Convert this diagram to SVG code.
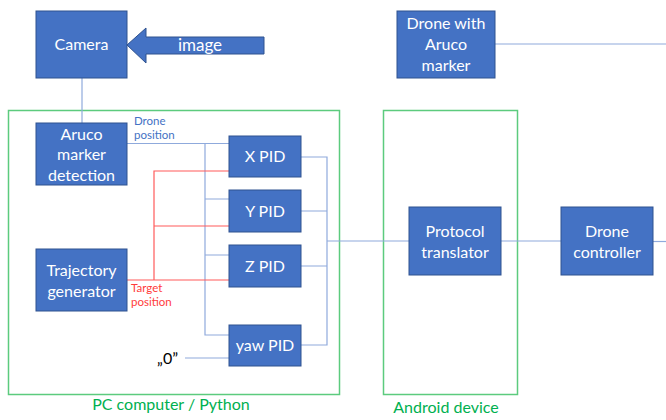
<svg xmlns="http://www.w3.org/2000/svg" width="666" height="420" viewBox="0 0 666 420">
  <style>
    .box { fill: #4472C4; stroke: #2F528F; stroke-width: 1; }
    .lbl { fill: #ffffff; font-family: Lato, "Open Sans", sans-serif; font-size: 16px; text-anchor: middle; }
    .frame { fill: none; stroke: #5CCB7E; stroke-width: 1.5; }
    .ftxt { fill: #00B050; font-family: Lato, "Open Sans", sans-serif; font-size: 16px; text-anchor: middle; }
    .blue { fill: none; stroke: #8FAADC; stroke-width: 1.2; }
    .red { fill: none; stroke: #FF5B5B; stroke-width: 1.2; }
    .small { font-family: Lato, "Open Sans", sans-serif; font-size: 11.5px; }
  </style>

  <!-- system frames -->
  <g id="pc-frame">
    <rect class="frame" x="8.5" y="110.5" width="331" height="284"/>
    <text class="ftxt" x="171" y="410">PC computer / Python</text>
  </g>
  <g id="android-frame">
    <rect class="frame" x="383.5" y="110.5" width="134" height="284"/>
    <text class="ftxt" x="446" y="413">Android device</text>
  </g>

  <!-- connectors -->
  <g id="connectors">
    <path class="blue" d="M82,78 V123"/>
    <path class="blue" d="M495,44 H666"/>
    <!-- drone position bus -->
    <path class="blue" d="M127,143.5 H229 M205,143.5 V335 H229 M205,199 H229 M205,255 H229"/>
    <path class="blue" d="M185,358 H229"/>
    <!-- target position bus -->
    <path class="red" d="M127,280 H229 M154,280 V171 H229 M154,226 H229"/>
    <!-- PID outputs -->
    <path class="blue" d="M301,157 H327 V345 H301 M301,211 H327 M301,266 H327"/>
    <path class="blue" d="M327,241 H409"/>
    <path class="blue" d="M501,241 H561"/>
    <path class="blue" d="M653,241.5 H666"/>
  </g>

  <!-- image input arrow -->
  <g id="image-arrow">
    <polygon class="box" points="127,45 146,28 146,37 264,37 264,54 146,54 146,63"/>
    <text class="lbl" x="200" y="51" style="font-size:17px">image</text>
  </g>

  <g id="camera">
    <rect class="box" x="36" y="11" width="91" height="67"/>
    <text class="lbl" x="81.5" y="50">Camera</text>
  </g>

  <g id="drone-marker">
    <rect class="box" x="397" y="11" width="98" height="67"/>
    <text class="lbl" x="446" y="29">Drone with</text>
    <text class="lbl" x="446" y="50">Aruco</text>
    <text class="lbl" x="446" y="71">marker</text>
  </g>

  <g id="aruco-detection">
    <rect class="box" x="36" y="123" width="91" height="62"/>
    <text class="lbl" x="81.5" y="140">Aruco</text>
    <text class="lbl" x="81.5" y="160">marker</text>
    <text class="lbl" x="81.5" y="181">detection</text>
  </g>
  <text class="small" x="134" y="125" fill="#4472C4">Drone</text>
  <text class="small" x="134" y="139" fill="#4472C4">position</text>

  <g id="trajectory-generator">
    <rect class="box" x="36" y="249" width="91" height="62"/>
    <text class="lbl" x="81.5" y="276">Trajectory</text>
    <text class="lbl" x="81.5" y="297">generator</text>
  </g>
  <text class="small" x="131" y="292" fill="#FF3B3B">Target</text>
  <text class="small" x="131" y="306" fill="#FF3B3B">position</text>

  <g id="x-pid">
    <rect class="box" x="229" y="136" width="72" height="41"/>
    <text class="lbl" x="265" y="162">X PID</text>
  </g>
  <g id="y-pid">
    <rect class="box" x="229" y="190" width="72" height="42"/>
    <text class="lbl" x="265" y="217">Y PID</text>
  </g>
  <g id="z-pid">
    <rect class="box" x="229" y="245" width="72" height="42"/>
    <text class="lbl" x="265" y="272">Z PID</text>
  </g>
  <g id="yaw-pid">
    <rect class="box" x="229" y="325" width="72" height="41"/>
    <text class="lbl" x="265" y="351">yaw PID</text>
  </g>
  <text x="157" y="364" style="font-family: Lato, 'Open Sans', sans-serif; font-size:16px" fill="#000">„0”</text>

  <g id="protocol-translator">
    <rect class="box" x="409" y="207" width="92" height="68"/>
    <text class="lbl" x="455" y="237">Protocol</text>
    <text class="lbl" x="455" y="258">translator</text>
  </g>
  <g id="drone-controller">
    <rect class="box" x="561" y="207" width="92" height="68"/>
    <text class="lbl" x="607" y="237">Drone</text>
    <text class="lbl" x="607" y="258">controller</text>
  </g>
</svg>
